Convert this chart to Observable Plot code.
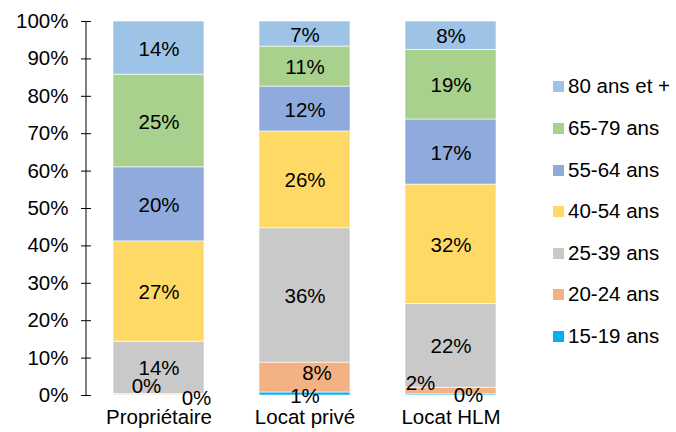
<!DOCTYPE html>
<html>
<head>
<meta charset="utf-8">
<script src="https://cdn.jsdelivr.net/npm/d3@7"></script>
<script src="https://cdn.jsdelivr.net/npm/@observablehq/plot@0.6"></script>
<style>
  html, body { margin: 0; padding: 0; background: #fff; }
  #wrap { position: relative; width: 676px; height: 432px; font-family: "Liberation Sans", Arial, sans-serif; }
  #chart { position: absolute; left: 0; top: 0; }
  #legend { position: absolute; left: 553px; top: 0; }
  .row { position: absolute; left: 0; display: flex; align-items: center; white-space: nowrap; font-size: 20.5px; color: #000; height: 24px; }
  .sw { width: 11px; height: 11px; margin-right: 4px; flex: none; }
</style>
</head>
<body>
<div id="wrap"><div id="chart"></div><div id="legend"></div></div>
<script>
const tenures = ["Propriétaire", "Locat privé", "Locat HLM"];
const ages = ["15-19 ans", "20-24 ans", "25-39 ans", "40-54 ans", "55-64 ans", "65-79 ans", "80 ans et +"];
const proprietaire = [0.1, 0.3, 14.0, 26.8, 19.8, 24.8, 14.2];
const locatPrive   = [0.8, 8.0, 35.9, 25.9, 12.0, 10.7, 6.7];
const locatHLM     = [0.3, 1.8, 22.4, 31.9, 17.4, 18.6, 7.6];
const colors = ["#00B0F0", "#F4B183", "#C9C9C9", "#FFD966", "#8FAADC", "#A9D18E", "#9DC3E6"];
const yTicks = [0, 10, 20, 30, 40, 50, 60, 70, 80, 90, 100];

const series = [proprietaire, locatPrive, locatHLM];
const data = [];
tenures.forEach((t, i) => ages.forEach((a, j) => data.push({tenure: t, age: a, v: series[i][j]})));
const lab = d => Math.round(d.v) + "%";
const FS = 20.5;

// labels moved off-centre, as in the reference
const moved = [
  ["Propriétaire", "15-19 ans", 37.5, 3],
  ["Propriétaire", "20-24 ans", -12.5, -8],
  ["Locat privé", "15-19 ans", 0, 2],
  ["Locat privé", "20-24 ans", 12, -4],
  ["Locat HLM", "15-19 ans", 17.5, 0],
  ["Locat HLM", "20-24 ans", -30.5, -8]
];
const isMoved = d => moved.some(m => m[0] === d.tenure && m[1] === d.age);

function special([t, a, dx, dy]) {
  return Plot.text(data, Plot.stackY({
    x: "tenure", y: "v",
    text: d => (d.tenure === t && d.age === a) ? lab(d) : null,
    dx, dy, fontSize: FS, fill: "#000"
  }));
}

const axisLine = (index, scales, values, dims) => {
  const l = document.createElementNS("http://www.w3.org/2000/svg", "line");
  l.setAttribute("x1", dims.marginLeft); l.setAttribute("x2", dims.marginLeft);
  l.setAttribute("y1", scales.y(100)); l.setAttribute("y2", scales.y(0));
  l.setAttribute("stroke", "#000"); l.setAttribute("stroke-width", 1);
  return l;
};

const chart = Plot.plot({
  width: 540, height: 432,
  marginLeft: 86, marginRight: 17, marginTop: 21, marginBottom: 37,
  style: {fontFamily: "Liberation Sans, Arial, sans-serif", fontSize: FS + "px", color: "#000", background: "#fff"},
  x: {domain: tenures, paddingInner: 0.377, paddingOuter: 0.185, label: null},
  y: {domain: [0, 100], label: null},
  color: {domain: ages, range: colors},
  marks: [
    Plot.barY(data, Plot.stackY({x: "tenure", y: "v", fill: "age", stroke: "#fff", strokeWidth: 0.6})),
    Plot.text(data, Plot.stackY({x: "tenure", y: "v", text: d => isMoved(d) ? null : lab(d), fontSize: FS, fill: "#000", dy: 1})),
    ...moved.map(special),
    Plot.axisY({ticks: yTicks, tickFormat: d => d + "%", tickSize: 10, tickPadding: 13, dx: 5, fontSize: FS, label: null, stroke: "#000"}),
    Plot.axisX({tickSize: 0, tickPadding: 14, fontSize: FS, label: null}),
    axisLine
  ]
});
document.getElementById("chart").appendChild(chart);

const legend = document.getElementById("legend");
const rowY = [86, 128, 170, 211, 253, 294, 336];
ages.slice().reverse().forEach((a, i) => {
  const r = document.createElement("div");
  r.className = "row";
  r.style.top = (rowY[i] - 12) + "px";
  const s = document.createElement("div");
  s.className = "sw";
  s.style.background = colors[ages.length - 1 - i];
  const t = document.createElement("span");
  t.textContent = a;
  r.appendChild(s); r.appendChild(t);
  legend.appendChild(r);
});
</script>
</body>
</html>
